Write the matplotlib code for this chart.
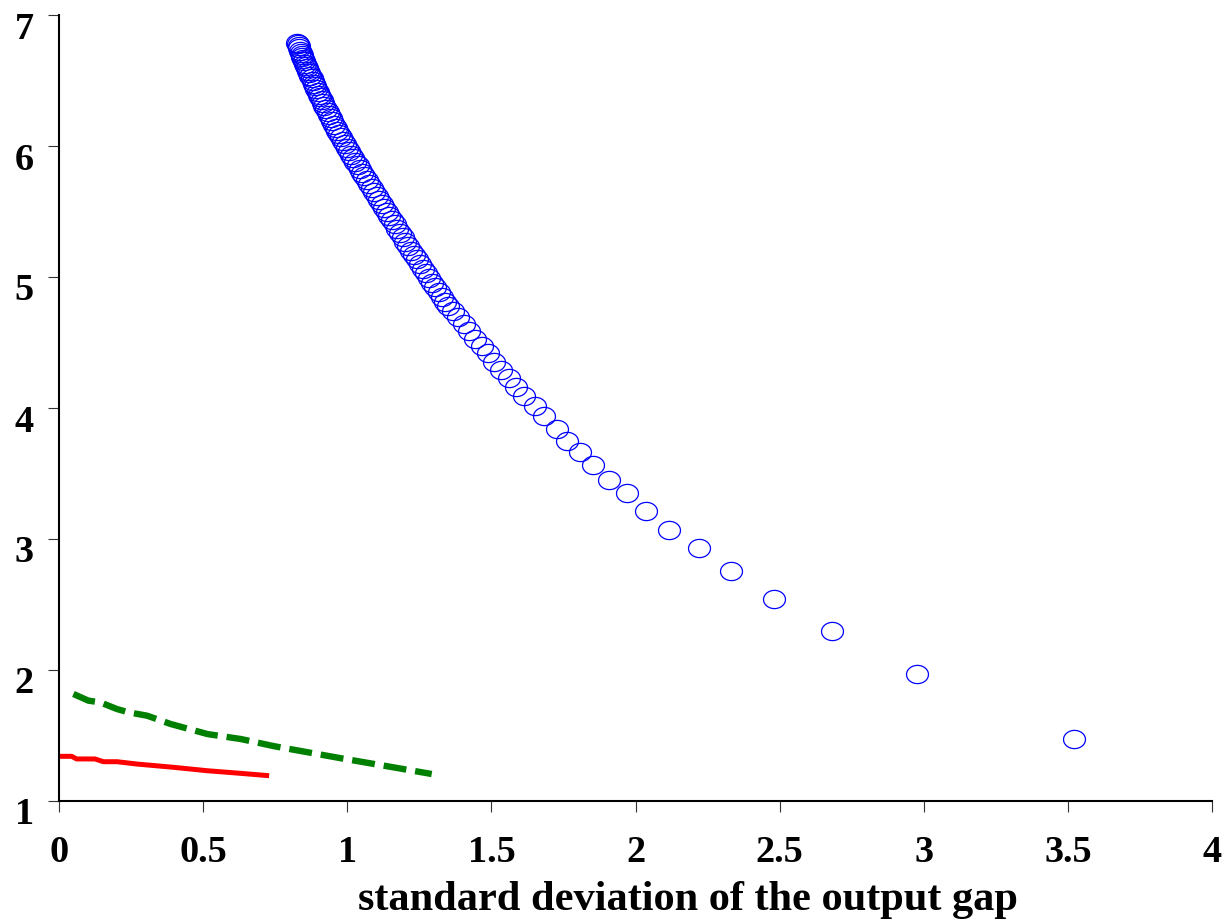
import matplotlib
matplotlib.use("Agg")
import matplotlib.pyplot as plt
import matplotlib.transforms as mtransforms
from matplotlib.path import Path
import numpy as np

# ---- data ----
blue_x = [0.826, 0.829, 0.831, 0.834, 0.836, 0.839, 0.842, 0.844, 0.847, 0.850,
          0.853, 0.856, 0.860, 0.864, 0.868, 0.872, 0.876, 0.880, 0.884, 0.888,
          0.893, 0.897, 0.902, 0.907, 0.911, 0.916, 0.921, 0.926, 0.932, 0.937,
          0.942, 0.948, 0.954, 0.960, 0.966, 0.973, 0.979, 0.985, 0.992, 0.998,
          1.006, 1.013, 1.021, 1.028, 1.036, 1.043, 1.051, 1.059, 1.068, 1.076,
          1.085, 1.094, 1.102, 1.111, 1.120, 1.129, 1.137, 1.146, 1.155, 1.164,
          1.174, 1.183, 1.193, 1.202, 1.212, 1.221, 1.232, 1.242, 1.252, 1.263,
          1.274, 1.284, 1.295, 1.306, 1.317, 1.327, 1.338,
          1.348, 1.366, 1.383, 1.404, 1.422, 1.443, 1.468, 1.488, 1.509, 1.535,
          1.561, 1.586, 1.614, 1.651, 1.682, 1.727, 1.762, 1.809, 1.854, 1.908,
          1.970, 2.035, 2.117, 2.220, 2.331, 2.479, 2.682, 2.977, 3.521]
blue_y = [6.790, 6.775, 6.760, 6.745, 6.729, 6.713, 6.697, 6.680, 6.663, 6.646,
          6.628, 6.610, 6.592, 6.573, 6.554, 6.535, 6.516, 6.496, 6.476, 6.456,
          6.435, 6.414, 6.393, 6.371, 6.349, 6.327, 6.305, 6.282, 6.259, 6.236,
          6.212, 6.188, 6.164, 6.140, 6.115, 6.090, 6.065, 6.040, 6.014, 5.988,
          5.961, 5.934, 5.907, 5.880, 5.852, 5.824, 5.796, 5.768, 5.739, 5.710,
          5.680, 5.650, 5.620, 5.590, 5.559, 5.528, 5.497, 5.466, 5.434, 5.402,
          5.369, 5.336, 5.303, 5.270, 5.236, 5.202, 5.168, 5.134, 5.099, 5.064,
          5.028, 4.992, 4.956, 4.920, 4.884, 4.848, 4.812,
          4.779, 4.740, 4.695, 4.641, 4.588, 4.527, 4.473, 4.420, 4.351, 4.290,
          4.229, 4.160, 4.092, 4.015, 3.939, 3.840, 3.748, 3.664, 3.565, 3.450,
          3.351, 3.214, 3.069, 2.931, 2.756, 2.544, 2.300, 1.967, 1.476]

green_x = [0.050, 0.102, 0.143, 0.201, 0.241, 0.306, 0.387, 0.515, 0.631, 0.747,
           0.863, 0.979, 1.095, 1.293]
green_y = [1.817, 1.766, 1.753, 1.702, 1.677, 1.651, 1.588, 1.511, 1.473, 1.418,
           1.372, 1.326, 1.282, 1.206]

red_x = [0.000, 0.044, 0.061, 0.125, 0.154, 0.201, 0.271, 0.398, 0.515, 0.631, 0.729]
red_y = [1.341, 1.341, 1.321, 1.321, 1.300, 1.300, 1.282, 1.257, 1.231, 1.211, 1.193]

x_ticks = [0, 0.5, 1, 1.5, 2, 2.5, 3, 3.5, 4]
x_ticklabels = ["0", "0.5", "1", "1.5", "2", "2.5", "3", "3.5", "4"]
y_ticks = [1, 2, 3, 4, 5, 6, 7]
y_ticklabels = ["1", "2", "3", "4", "5", "6", "7"]
x_label = "standard deviation of the output gap"

# ---- figure ----
plt.rcParams['font.family'] = ['Liberation Serif', 'DejaVu Serif']
plt.rcParams['font.weight'] = 'bold'

W, H = 1227, 920
fig = plt.figure(figsize=(W / 100, H / 100), dpi=100)
ax = fig.add_axes([59 / W, (H - 802) / H, (1212 - 59) / W, (802 - 16) / H])

# ellipse marker (wider than tall)
t = np.linspace(0, 2 * np.pi, 60)
ell = Path(np.column_stack([np.cos(t), 0.83 * np.sin(t)]), closed=True)

ax.plot(blue_x, blue_y, linestyle='none', marker=ell, markersize=15.8,
        markerfacecolor='none', markeredgecolor='#0000ff', markeredgewidth=0.9)
ax.plot(green_x, green_y, color='#008000', linewidth=4.6,
        linestyle=(0, (3.6, 1.4)), dash_capstyle='butt')
ax.plot(red_x, red_y, color='#ff0000', linewidth=3.6, solid_capstyle='butt')

ax.set_xlim(0, 4)
ax.set_ylim(1, 7)
ax.set_xticks(x_ticks)
ax.set_xticklabels(x_ticklabels)
ax.set_yticks(y_ticks)
ax.set_yticklabels(y_ticklabels)

for s in ['top', 'right']:
    ax.spines[s].set_visible(False)
for s in ['left', 'bottom']:
    ax.spines[s].set_linewidth(1.5)
    ax.spines[s].set_color('black')

ax.tick_params(axis='both', direction='out', length=8, width=0.8, color='#333333',
               labelsize=27.5)
ax.tick_params(axis='x', pad=16)
ax.tick_params(axis='y', pad=10)
for lab in ax.get_xticklabels() + ax.get_yticklabels():
    lab.set_fontweight('bold')

offset = mtransforms.ScaledTranslation(0, -9 / 100, fig.dpi_scale_trans)
for lab in ax.get_yticklabels():
    lab.set_transform(lab.get_transform() + offset)

fig.text(688 / W, (H - 910) / H, x_label, ha='center', va='baseline',
         fontsize=30.5, fontweight='bold')

fig.savefig("out.png", dpi=100)
